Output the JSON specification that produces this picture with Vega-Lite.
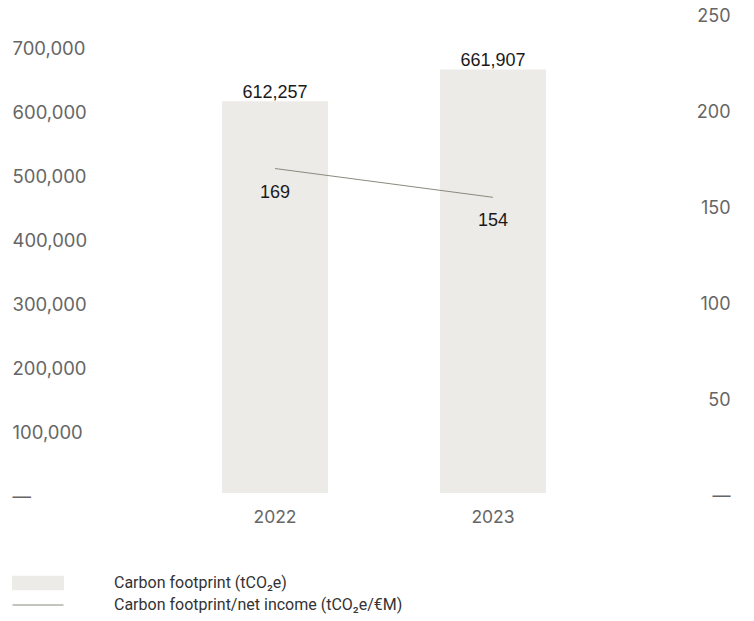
{
  "$schema": "https://vega.github.io/schema/vega-lite/v6.json",
  "width": 568,
  "height": 480,
  "padding": {"left": 12, "top": 7, "right": 10, "bottom": 2},
  "background": "#ffffff",
  "config": {
    "view": {"stroke": null},
    "font": "Inter"
  },
  "data": {
    "values": [
      {"year": "2022", "footprint": 612257, "intensity": 169, "barSeries": "Carbon footprint (tCO₂e)", "lineSeries": "Carbon footprint/net income (tCO₂e/€M)"},
      {"year": "2023", "footprint": 661907, "intensity": 154, "barSeries": "Carbon footprint (tCO₂e)", "lineSeries": "Carbon footprint/net income (tCO₂e/€M)"}
    ]
  },
  "encoding": {
    "x": {
      "field": "year",
      "type": "nominal",
      "scale": {"paddingInner": 0.514, "paddingOuter": 0.56},
      "axis": {
        "title": null,
        "labelAngle": 0,
        "domain": false,
        "ticks": false,
        "labelPadding": 15,
        "labelColor": "#666666",
        "labelFont": "Inter",
        "labelFontSize": 17.5
      }
    }
  },
  "layer": [
    {
      "layer": [
        {
          "mark": {"type": "bar", "color": "#edebe7"},
          "encoding": {
            "y": {
              "field": "footprint",
              "type": "quantitative",
              "scale": {"domain": [0, 750000]},
              "axis": {
                "orient": "left",
                "title": null,
                "values": [0, 100000, 200000, 300000, 400000, 500000, 600000, 700000],
                "labelExpr": "datum.value == 0 ? '—' : format(datum.value, ',')",
                "labelAlign": "left",
                "labelBaseline": "middle",
                "labelOffset": 3,
                "labelPadding": 88,
                "tickSize": 0,
                "ticks": false,
                "domain": false,
                "grid": false,
                "labelColor": "#666666",
                "labelFont": "Inter",
                "labelFontSize": 18.5
              }
            },
            "fill": {
              "field": "barSeries",
              "type": "nominal",
              "scale": {"range": ["#edebe7"]},
              "legend": {
                "title": null,
                "orient": "none",
                "legendX": -88,
                "legendY": 544,
                "symbolType": "M-1,-0.28H1V0.28H-1Z",
                "symbolSize": 2704,
                "symbolStrokeWidth": 0,
                "labelOffset": 50,
                "labelFont": "Roboto",
                "labelFontSize": 16,
                "labelColor": "#333333",
                "labelLimit": 600
              }
            }
          }
        },
        {
          "mark": {"type": "text", "baseline": "bottom", "dy": 1, "font": "Liberation Sans", "fontSize": 18, "color": "#1a1a1a"},
          "encoding": {
            "y": {"field": "footprint", "type": "quantitative", "scale": {"domain": [0, 750000]}},
            "text": {"field": "footprint", "type": "quantitative", "format": ","}
          }
        }
      ]
    },
    {
      "layer": [
        {
          "mark": {"type": "line", "strokeWidth": 1},
          "encoding": {
            "y": {
              "field": "intensity",
              "type": "quantitative",
              "scale": {"domain": [0, 250]},
              "axis": {
                "orient": "right",
                "title": null,
                "values": [0, 50, 100, 150, 200, 250],
                "labelExpr": "datum.value == 0 ? '—' : format(datum.value, ',')",
                "labelAlign": "right",
                "labelBaseline": "middle",
                "labelOffset": 3,
                "labelPadding": 62,
                "tickSize": 0,
                "ticks": false,
                "domain": false,
                "grid": false,
                "labelColor": "#666666",
                "labelFont": "Inter",
                "labelFontSize": 18
              }
            },
            "stroke": {
              "field": "lineSeries",
              "type": "nominal",
              "scale": {"range": ["#8a8a7e"]},
              "legend": {
                "title": null,
                "orient": "none",
                "legendX": -88,
                "legendY": 566,
                "symbolType": "stroke",
                "symbolSize": 2600,
                "symbolStrokeWidth": 1,
                "labelOffset": 50,
                "labelFont": "Roboto",
                "labelFontSize": 16,
                "labelColor": "#333333",
                "labelLimit": 600
              }
            }
          }
        },
        {
          "mark": {"type": "text", "baseline": "middle", "dy": 24, "font": "Liberation Sans", "fontSize": 18, "color": "#1a1a1a"},
          "encoding": {
            "y": {"field": "intensity", "type": "quantitative", "scale": {"domain": [0, 250]}},
            "text": {"field": "intensity", "type": "quantitative"}
          }
        }
      ]
    }
  ],
  "resolve": {"scale": {"y": "independent"}}
}
